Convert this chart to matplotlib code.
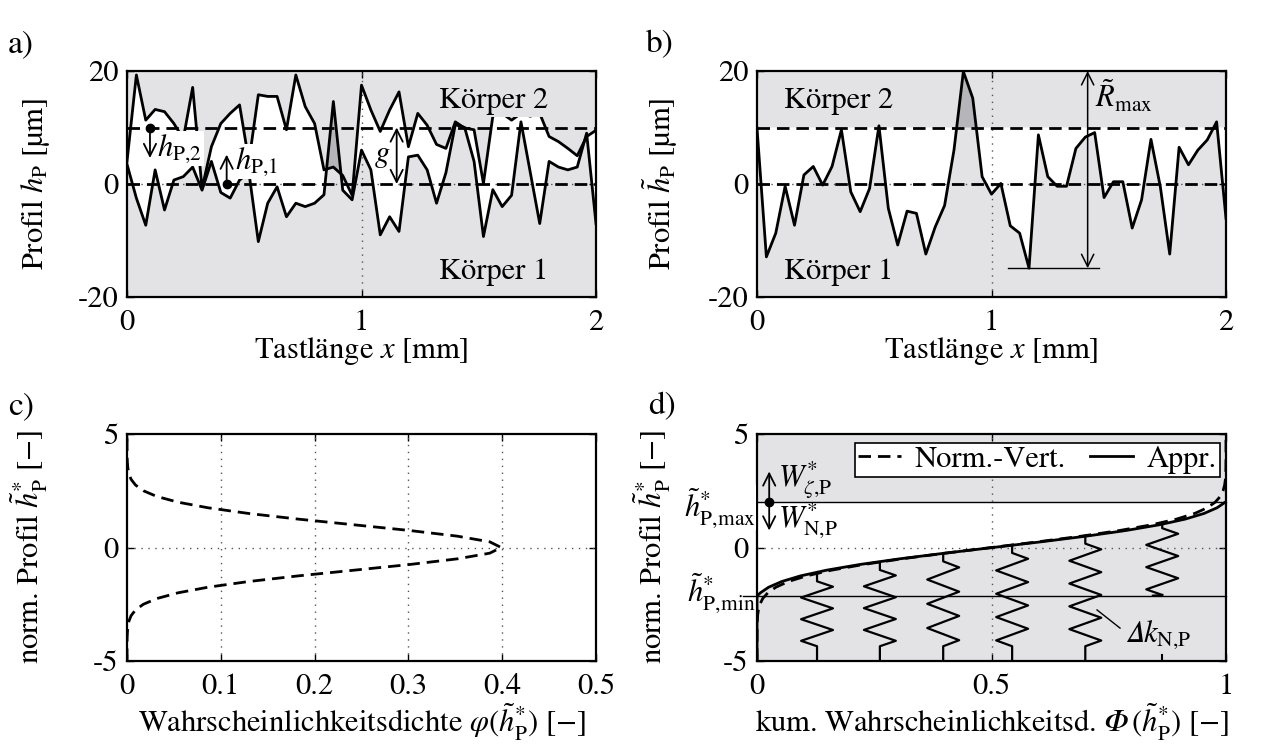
import matplotlib.pyplot as plt
import numpy as np

plt.rcParams['font.family'] = 'STIXGeneral'
plt.rcParams['mathtext.fontset'] = 'stix'
plt.rcParams['axes.unicode_minus'] = False
plt.rcParams['font.size'] = 22

GRAY = '#e3e3e6'
DARK = '#b6b6ba'

# --- a) / b) Rauheitsprofile (Tastlänge 0..2 mm, 51 Messpunkte)
x_mm = np.linspace(0, 2, 51)

profil_k2 = [4.0, 19.3, 11.3, 13.2, 12.8, 10.7, 8.0, 17.1, -0.8, 6.6,
             10.7, 12.5, 14.0, 4.0, 15.8, 15.5, 15.5, 9.6, 19.3, 13.7,
             10.7, 2.5, 3.0, 1.5, -2.0, 17.5, 13.1, 9.3, 13.1, 16.3,
             6.6, 12.5, 10.4, 7.0, 6.3, 11.0, 9.9, 9.6, 0.1, 12.0,
             12.5, 11.3, 12.5, 12.0, 12.5, 8.4, 7.5, 6.3, 5.0, 8.4, 9.5]

profil_k1 = [3.5, -2.5, -7.3, 2.5, -4.6, 0.7, 1.3, 3.0, -1.1, 4.0,
             -1.5, -2.5, 0.7, 2.0, -10.2, -3.4, -0.5, -5.8, -3.4, -4.0,
             -3.4, -1.9, 14.6, -1.1, -2.8, 6.0, 2.5, -9.0, -5.8, -8.4,
             4.8, 5.1, 2.5, -3.4, 2.0, 10.5, 10.0, 4.0, -9.3, -1.0,
             -4.0, -2.0, 11.0, 2.0, -7.0, 4.0, 3.0, 2.5, 3.0, 9.0, -7.0]

profil_b = [9.9, -12.9, -8.7, -0.4, -7.3, 1.6, 3.1, -0.2, 3.1, 9.6,
            -1.4, -4.9, -0.8, 10.3, -4.3, -10.8, -4.8, -5.2, -12.4, -7.6,
            -3.8, 6.0, 19.9, 15.2, 1.3, -1.8, 0.1, -7.4, -8.7, -14.9,
            8.7, 1.3, -0.4, -0.4, 6.3, 8.3, 9.1, -2.4, 0.4, 0.4,
            -7.8, -2.8, 7.9, -0.5, -12.4, 6.5, 3.4, 6.0, 7.8, 11.0, -6.1]

abstand_g = 10.0

# --- c) / d) Normalverteilung
h_norm = [-5, -4, -3.75, -3.5, -3.25, -3, -2.75, -2.5, -2.25, -2, -1.75, -1.5,
          -1.25, -1, -0.75, -0.5, -0.25, 0, 0.25, 0.5, 0.75, 1, 1.25, 1.5,
          1.75, 2, 2.25, 2.5, 2.75, 3, 3.25, 3.5, 3.75, 4, 5]
pdf_norm = [0.0, 0.0001, 0.0004, 0.0009, 0.0020, 0.0044, 0.0091, 0.0175, 0.0317,
            0.0540, 0.0863, 0.1295, 0.1826, 0.2420, 0.3011, 0.3521, 0.3867,
            0.3989, 0.3867, 0.3521, 0.3011, 0.2420, 0.1826, 0.1295, 0.0863,
            0.0540, 0.0317, 0.0175, 0.0091, 0.0044, 0.0020, 0.0009, 0.0004,
            0.0001, 0.0]
cdf_norm = [0.0, 0.00003, 0.0001, 0.0002, 0.0006, 0.0013, 0.0030, 0.0062, 0.0122,
            0.0228, 0.0401, 0.0668, 0.1056, 0.1587, 0.2266, 0.3085, 0.4013,
            0.5, 0.5987, 0.6915, 0.7734, 0.8413, 0.8944, 0.9332, 0.9599,
            0.9772, 0.9878, 0.9938, 0.9970, 0.9987, 0.9994, 0.9998, 0.9999,
            0.99997, 1.0]

h_appr = [-5, -2.14, -2.0, -1.75, -1.5, -1.25, -1.0, -0.75, -0.5, -0.25, 0,
          0.25, 0.5, 0.75, 1.0, 1.25, 1.5, 1.75, 2.02]
cdf_appr = [0.0, 0.0, 0.0069, 0.0248, 0.0526, 0.0929, 0.1481, 0.2187, 0.3038,
            0.4003, 0.5029, 0.6054, 0.7019, 0.7870, 0.8576, 0.9128, 0.9531,
            0.9809, 1.0]
h_max = 2.02
h_min = -2.14

feder_x = [0.128, 0.262, 0.397, 0.544, 0.70, 0.864]
feder_top = [-1.14, -0.64, -0.26, 0.11, 0.52, 1.10]


def style_ax(ax, xlim, ylim, xticks, yticks, gridx, gridy):
    ax.set_facecolor(GRAY)
    ax.set_xlim(xlim)
    ax.set_ylim(ylim)
    ax.set_xticks(xticks)
    ax.set_yticks(yticks)
    ax.tick_params(direction='in', length=5, width=1, top=True, right=True, pad=6)
    ax.tick_params(axis='x', pad=9)
    for s in ax.spines.values():
        s.set_linewidth(1.6)
        s.set_zorder(6)
    for gx in gridx:
        ax.axvline(gx, color='#555555', ls=(0, (1, 4)), lw=1, zorder=3)
    for gy in gridy:
        ax.axhline(gy, color='#555555', ls=(0, (1, 4)), lw=1, zorder=3)


def feder(ax, x0, top, bottom, stub_top=0.35, stub_bot=0.65, w=0.034, pitch=0.5):
    z0 = top - stub_top
    z1 = bottom + stub_bot
    n = max(2, int(round((z0 - z1) / pitch)))
    ys = [top, z0]
    xs = [x0, x0]
    for k in range(n):
        ys.append(z0 - (k + 0.5) / n * (z0 - z1))
        xs.append(x0 + (w if k % 2 == 0 else -w))
    ys += [z1, bottom]
    xs += [x0, x0]
    ax.plot(xs, ys, color='k', lw=1.6, zorder=4)


fig = plt.figure(figsize=(12.67, 7.51), dpi=100)
W, H = 1267, 751


def add_ax(l, t, r, b):
    return fig.add_axes([l / W, 1 - b / H, (r - l) / W, (b - t) / H])


ax_a = add_ax(127, 71, 596, 297)
ax_b = add_ax(757, 71, 1226, 297)
ax_c = add_ax(127, 434, 596, 661)
ax_d = add_ax(757, 434, 1226, 661)

dash = (0, (4.5, 2.5))

# ---------- a)
ax = ax_a
style_ax(ax, (0, 2), (-20, 20), [0, 1, 2], [-20, 0, 20], [1], [0])
k1 = np.array(profil_k1)
k2 = np.array(profil_k2)
ax.fill_between(x_mm, k1, k2, where=k2 >= k1, interpolate=True, color='white', lw=0, zorder=1)
ax.fill_between(x_mm, k1, k2, where=k1 > k2, interpolate=True, color=DARK, lw=0, zorder=1)
ax.axhline(0, color='k', lw=2, ls=dash, zorder=3)
ax.axhline(abstand_g, color='k', lw=2, ls=dash, zorder=3)
ax.plot(x_mm, k2, color='k', lw=2, zorder=4)
ax.plot(x_mm, k1, color='k', lw=2, zorder=4)
ax.text(1.565, 14.6, 'Körper 2', ha='center', va='center', zorder=5,
        bbox=dict(facecolor=GRAY, edgecolor='none', pad=1))
ax.text(1.565, -15.6, 'Körper 1', ha='center', va='center', zorder=5)
ax.text(0.13, 6.3, r'$h_{\mathrm{P,\!2}}$', ha='left', va='center', zorder=5,
        bbox=dict(facecolor='white', edgecolor='none', pad=1))
ax.text(0.46, 4.0, r'$h_{\mathrm{P,\!1}}$', ha='left', va='center', zorder=5,
        bbox=dict(facecolor='white', edgecolor='none', pad=1))
ax.annotate('', xy=(0.098, 4.6), xytext=(0.098, 10),
            arrowprops=dict(arrowstyle='->', lw=1.3, shrinkA=0, shrinkB=0), zorder=6)
ax.annotate('', xy=(0.425, 5.2), xytext=(0.425, 0),
            arrowprops=dict(arrowstyle='->', lw=1.3, shrinkA=0, shrinkB=0), zorder=6)
ax.plot([0.098, 0.425], [10, 0], 'o', color='k', ms=6, ls='none', zorder=7)
ax.annotate('', xy=(1.15, 10), xytext=(1.15, 0),
            arrowprops=dict(arrowstyle='<->', lw=1.3, shrinkA=0, shrinkB=0), zorder=6)
ax.text(1.125, 5.0, r'$g$', ha='right', va='center', zorder=6)
ax.set_xlabel(r'Tastlänge $x$ [mm]')
ax.set_ylabel(r'Profil $h_{\mathrm{P}}$ [µm]')

# ---------- b)
ax = ax_b
style_ax(ax, (0, 2), (-20, 20), [0, 1, 2], [-20, 0, 20], [1], [0])
pb = np.array(profil_b)
ax.fill_between(x_mm, pb, abstand_g, where=pb <= abstand_g, interpolate=True, color='white', lw=0, zorder=1)
ax.fill_between(x_mm, pb, abstand_g, where=pb > abstand_g, interpolate=True, color=DARK, lw=0, zorder=1)
ax.axhline(0, color='k', lw=2, ls=dash, zorder=3)
ax.axhline(abstand_g, color='k', lw=2, ls=dash, zorder=3)
ax.plot(x_mm, pb, color='k', lw=2, zorder=4)
r_min = min(profil_b)
ax.plot([1.07, 1.46], [r_min, r_min], color='k', lw=1, zorder=4)
ax.annotate('', xy=(1.41, 20), xytext=(1.41, r_min),
            arrowprops=dict(arrowstyle='<->', lw=1.1, shrinkA=0, shrinkB=0), zorder=6)
ax.text(1.44, 15.5, r'$\tilde{R}_{\mathrm{max}}$', ha='left', va='center', zorder=6)
ax.text(0.35, 14.6, 'Körper 2', ha='center', va='center', zorder=5)
ax.text(0.35, -15.6, 'Körper 1', ha='center', va='center', zorder=5)
ax.set_xlabel(r'Tastlänge $x$ [mm]')
ax.set_ylabel(r'Profil $\tilde{h}_{\mathrm{P}}$ [µm]')

# ---------- c)
ax = ax_c
style_ax(ax, (0, 0.5), (-5, 5), [0, 0.1, 0.2, 0.3, 0.4, 0.5], [-5, 0, 5],
         [0.1, 0.2, 0.3, 0.4], [0])
ax.set_facecolor('white')
ax.set_xticklabels(['0', '0.1', '0.2', '0.3', '0.4', '0.5'])
ax.plot(pdf_norm, h_norm, color='k', lw=2, ls=dash, zorder=4)
ax.set_xlabel(r'Wahrscheinlichkeitsdichte $\varphi(\tilde{h}^{*}_{\mathrm{P}})$ [$-$]')
ax.set_ylabel(r'norm. Profil $\tilde{h}^{*}_{\mathrm{P}}$ [$-$]')

# ---------- d)
ax = ax_d
style_ax(ax, (0, 1), (-5, 5), [0, 0.5, 1], [-5, 0, 5], [0.5], [0])
ax.set_xticklabels(['0', '0.5', '1'])
ax.fill_betweenx(h_appr, 0, cdf_appr, where=np.array(h_appr) >= h_min, color='white', lw=0, zorder=1)
ax.plot([-0.03, 1], [h_max, h_max], color='k', lw=1, zorder=5, clip_on=False)
ax.plot([-0.03, 1], [h_min, h_min], color='k', lw=1, zorder=5, clip_on=False)
for fx, ft in zip(feder_x[:-1], feder_top[:-1]):
    feder(ax, fx, ft, -5)
# letzte Feder endet an h_min
feder(ax, feder_x[-1], feder_top[-1], h_min + 0.05, stub_top=0.25, stub_bot=0.0)
ax.plot([feder_x[-1], feder_x[-1] - 0.02], [h_min + 0.05, h_min + 0.02], color='k', lw=1.5, zorder=4)
ax.plot([feder_x[-1], feder_x[-1]], [-5, -4.75], color='k', lw=1.5, zorder=4)
l1, = ax.plot(cdf_norm, h_norm, color='k', lw=2, ls=dash, zorder=5, label='Norm.-Vert.')
l2, = ax.plot(cdf_appr, h_appr, color='k', lw=2, zorder=5, label='Appr.')
leg = ax.legend(handles=[l1, l2], loc='upper right', bbox_to_anchor=(0.987, 0.962),
                ncol=2, borderaxespad=0, fancybox=False, framealpha=1, edgecolor='k',
                handlelength=1.4, handletextpad=0.45, columnspacing=0.8,
                borderpad=0.1, fontsize=22)
leg.get_frame().set_linewidth(1.2)
leg.set_zorder(8)
ax.plot(0.026, h_max, 'o', color='k', ms=6, zorder=7)
ax.annotate('', xy=(0.026, 3.35), xytext=(0.026, h_max),
            arrowprops=dict(arrowstyle='->', lw=1.3, shrinkA=0, shrinkB=0), zorder=7)
ax.annotate('', xy=(0.026, 0.75), xytext=(0.026, h_max),
            arrowprops=dict(arrowstyle='->', lw=1.3, shrinkA=0, shrinkB=0), zorder=7)
ax.text(0.045, 2.95, r'$W^{*}_{\zeta,\!\mathrm{P}}$', ha='left', va='center', zorder=7)
ax.text(0.045, 1.15, r'$W^{*}_{\mathrm{N,\!P}}$', ha='left', va='center', zorder=7)
ax.text(-0.003, 1.75, r'$\tilde{h}^{*}_{\mathrm{P,\!max}}$', ha='right', va='center', zorder=7,
        clip_on=False, bbox=dict(facecolor='white', edgecolor='none', pad=0.5))
ax.text(-0.003, -2.0, r'$\tilde{h}^{*}_{\mathrm{P,\!min}}$', ha='right', va='center', zorder=7,
        clip_on=False)
ax.plot([0.725, 0.774], [-2.75, -3.55], color='k', lw=1, zorder=5)
ax.text(0.785, -3.85, '$\U0001D6E5 k_{\\mathrm{N,\\!P}}$', ha='left', va='center', zorder=6)
ax.set_xlabel('kum. Wahrscheinlichkeitsd. $\U0001D6F7\\,(\\tilde{h}^{*}_{\\mathrm{P}})$ [$-$]')
ax.set_ylabel(r'norm. Profil $\tilde{h}^{*}_{\mathrm{P}}$ [$-$]')

# Achsbeschriftungen positionieren
for a_ in (ax_a, ax_b):
    a_.xaxis.set_label_coords(0.5, -0.17)
ax_a.yaxis.set_label_coords(-0.16, 0.5)
ax_b.yaxis.set_label_coords(-0.165, 0.5)
for a_ in (ax_c, ax_d):
    a_.xaxis.set_label_coords(0.5, -0.18)
ax_c.yaxis.set_label_coords(-0.165, 0.5)
ax_d.yaxis.set_label_coords(-0.18, 0.5)

for txt, px, py in [('a)', 8, 45), ('b)', 646, 45), ('c)', 8, 407), ('d)', 648, 407)]:
    fig.text(px / W, 1 - py / H, txt, va='center', ha='left', fontsize=24)

fig.savefig('out.png', dpi=100)
